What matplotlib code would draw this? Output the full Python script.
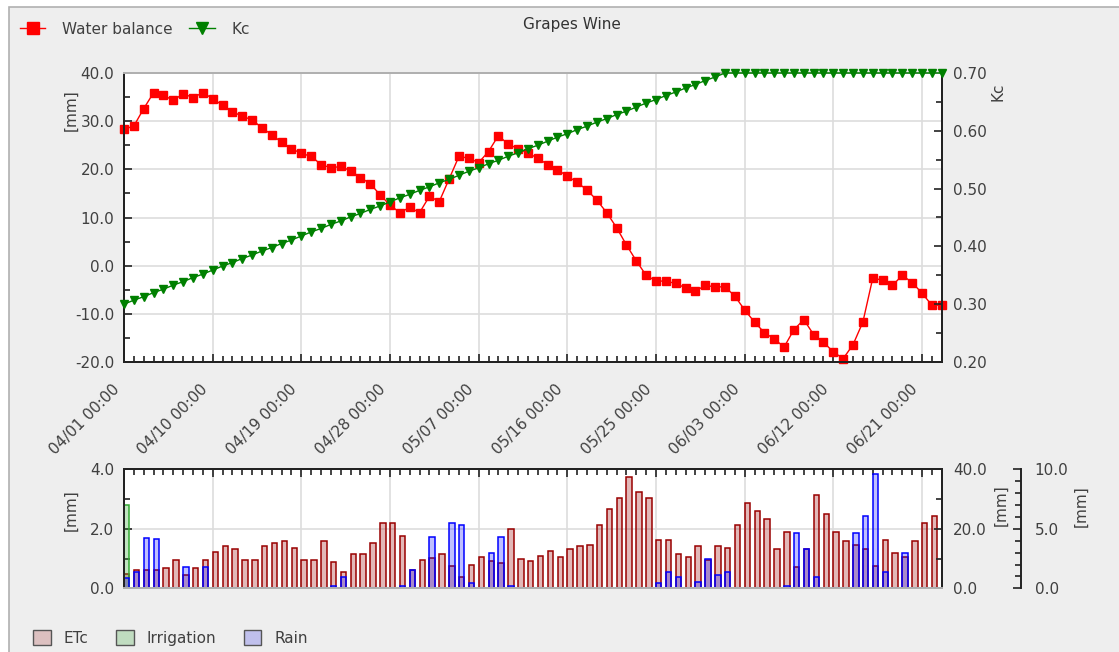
import matplotlib
matplotlib.use("Agg")
import matplotlib.pyplot as plt
from matplotlib.lines import Line2D
from matplotlib.patches import Patch, Rectangle
from matplotlib.ticker import MultipleLocator, FixedLocator, FormatStrFormatter
from matplotlib.transforms import ScaledTranslation

# daily values, 04/01 .. 06/23
days = list(range(84))
date_ticks = [0, 9, 18, 27, 36, 45, 54, 63, 72, 81]
date_labels = ['04/01 00:00', '04/10 00:00', '04/19 00:00', '04/28 00:00', '05/07 00:00',
               '05/16 00:00', '05/25 00:00', '06/03 00:00', '06/12 00:00', '06/21 00:00']

water_balance = [28.3, 29.0, 32.6, 35.9, 35.4, 34.3, 35.7, 34.9, 35.9, 34.7,
                 33.3, 32.0, 31.0, 30.3, 28.6, 27.2, 25.6, 24.3, 23.3, 22.7,
                 21.0, 20.3, 20.6, 19.7, 18.3, 17.0, 14.7, 12.6, 11.0, 12.1,
                 11.0, 14.4, 13.3, 18.0, 22.7, 22.3, 21.4, 23.7, 27.0, 25.2,
                 24.3, 23.4, 22.3, 21.0, 19.9, 18.6, 17.3, 15.7, 13.6, 11.0,
                 7.9, 4.3, 1.0, -2.0, -3.2, -3.2, -3.7, -4.6, -5.3, -4.1,
                 -4.4, -4.4, -6.3, -9.2, -11.7, -13.9, -15.2, -16.9, -13.3, -11.2,
                 -14.3, -15.9, -17.9, -19.3, -16.4, -11.7, -2.6, -3.0, -4.1, -2.0,
                 -3.5, -5.7, -8.2, -8.2]

kc = [0.300, 0.307, 0.313, 0.320, 0.326, 0.333, 0.339, 0.346, 0.352, 0.359,
      0.366, 0.372, 0.379, 0.385, 0.392, 0.398, 0.405, 0.411, 0.418, 0.425,
      0.431, 0.438, 0.444, 0.451, 0.457, 0.464, 0.470, 0.477, 0.484, 0.490,
      0.497, 0.503, 0.510, 0.516, 0.523, 0.530, 0.536, 0.543, 0.549, 0.556,
      0.562, 0.569, 0.575, 0.582, 0.589, 0.595, 0.602, 0.608, 0.615, 0.621,
      0.628, 0.634, 0.641, 0.648, 0.654, 0.661, 0.667, 0.674, 0.680, 0.687,
      0.693, 0.700, 0.700, 0.700, 0.700, 0.700, 0.700, 0.700, 0.700, 0.700,
      0.700, 0.700, 0.700, 0.700, 0.700, 0.700, 0.700, 0.700, 0.700, 0.700,
      0.700, 0.700, 0.700, 0.700]

etc = [0.48, 0.62, 0.62, 0.62, 0.67, 0.95, 0.45, 0.67, 0.95, 1.21,
       1.42, 1.31, 0.95, 0.95, 1.42, 1.53, 1.59, 1.37, 0.95, 0.95,
       1.59, 0.90, 0.56, 1.15, 1.15, 1.53, 2.18, 2.18, 1.75, 0.62,
       0.95, 1.03, 1.14, 0.76, 0.39, 0.77, 1.04, 0.93, 0.86, 2.00,
       0.99, 0.93, 1.09, 1.27, 1.04, 1.31, 1.42, 1.47, 2.12, 2.67,
       3.03, 3.73, 3.25, 3.03, 1.62, 1.62, 1.14, 1.04, 1.42, 0.95,
       1.42, 1.37, 2.12, 2.88, 2.61, 2.33, 1.31, 1.90, 0.71, 1.31,
       3.14, 2.50, 1.90, 1.59, 1.46, 1.31, 0.75, 1.62, 1.20, 1.06,
       1.59, 2.18, 2.44, 2.40]

rain = [3.6, 5.6, 16.8, 16.5, 0, 0, 7.3, 0, 7.3, 0,
        0, 0, 0, 0, 0, 0, 0, 0, 0, 0,
        0, 0.8, 3.9, 0, 0, 0, 0, 0, 0.8, 6.2,
        0, 17.4, 0, 21.8, 21.2, 1.7, 0, 12.0, 17.4, 0.8,
        0, 0, 0, 0, 0, 0, 0, 0, 0, 0,
        0, 0, 0, 0, 1.7, 5.5, 3.9, 0, 2.2, 9.9,
        4.5, 5.5, 0, 0, 0, 0, 0, 0.8, 18.5, 13.1,
        3.9, 0, 0, 0, 18.5, 24.3, 38.4, 5.5, 0, 12.0,
        0, 0, 0, 0]

irrigation = [7.0] + [0] * 83

W, H = 1119, 652


def fx(px):
    return px / W


def fy(py):
    return 1 - py / H


plt.rcParams['font.family'] = ['DejaVu Sans']
plt.rcParams['font.size'] = 11
txt = '#404040'

fig = plt.figure(figsize=(W / 100, H / 100), dpi=100, facecolor='white')
# panel background with border on top/left
fig.patches.append(Rectangle((fx(9), -0.05), 1.1, fy(7) + 0.05, transform=fig.transFigure,
                             facecolor='#eeeeee', edgecolor='#b0b0b0', lw=1.2, zorder=-10))

L, R = 124, 941.7
ax = fig.add_axes([fx(L), fy(362), (R - L) / W, (362 - 73) / H])
axb = fig.add_axes([fx(L), fy(588.3), (R - L) / W, (588.3 - 469.3) / H])


def style(a):
    a.tick_params(which='both', direction='in', colors='#222222', labelcolor=txt, labelsize=11)
    a.tick_params(which='major', length=6, width=1.2)
    a.tick_params(which='minor', length=4, width=1.2)
    for s in a.spines.values():
        s.set_linewidth(1.4)
        s.set_color('#222222')


# ---- top chart
ax.plot(days, water_balance, color='#ff0000', lw=1, marker='s', ms=5.5, clip_on=False, zorder=3)
ax.set_xlim(0, 83)
ax.set_ylim(-20, 40)
ax.yaxis.set_major_locator(MultipleLocator(10))
ax.yaxis.set_minor_locator(MultipleLocator(5))
ax.yaxis.set_major_formatter(FormatStrFormatter('%.1f'))
ax.xaxis.set_major_locator(FixedLocator(date_ticks))
ax.xaxis.set_minor_locator(MultipleLocator(1))
ax.set_xticklabels(date_labels, rotation=45, ha='right', va='center', rotation_mode='anchor')
ax.grid(which='major', color='#dddddd', lw=1.2)
style(ax)
ax.spines['top'].set_color('#b0b0b0')
ax.tick_params(axis='y', pad=7)
ax.tick_params(axis='x', pad=18)
shift = ScaledTranslation(-7 / 100, 0, fig.dpi_scale_trans)
for lab in ax.get_xticklabels():
    lab.set_transform(lab.get_transform() + shift)

ax2 = ax.twinx()
ax2.plot(days, kc, color='#008000', lw=1, marker='v', ms=6.3, clip_on=False, zorder=3)
ax2.set_ylim(0.2, 0.7)
ax2.yaxis.set_major_locator(MultipleLocator(0.1))
ax2.yaxis.set_minor_locator(MultipleLocator(0.05))
ax2.yaxis.set_major_formatter(FormatStrFormatter('%.2f'))
style(ax2)
ax2.spines['top'].set_color('#b0b0b0')
ax2.tick_params(axis='y', pad=8)

fig.text(fx(71), fy(110), '[mm]', rotation=90, ha='center', va='center', color=txt)
fig.text(fx(998), fy(92), 'Kc', rotation=90, ha='center', va='center', color=txt)
fig.text(fx(572), fy(25), 'Grapes Wine', ha='center', va='center', color='#333333')

fig.legend(handles=[Line2D([], [], color='#ff0000', marker='s', ms=8, lw=1),
                    Line2D([], [], color='#008000', marker='v', ms=9, lw=1)],
           labels=['Water balance', 'Kc'], loc='center left', bbox_to_anchor=(fx(20), fy(29)),
           ncol=2, frameon=False, borderpad=0, borderaxespad=0, handlelength=1.65,
           handletextpad=1.1, columnspacing=1.1, labelcolor=txt)

# ---- bottom chart
bx = [d + 0.28 for d in days]
bw = 0.55
axb.bar(bx, etc, width=bw, facecolor=(0.6, 0.0, 0.0, 0.28), edgecolor='#990000', lw=1.1, zorder=2)
axb.set_xlim(0, 83)
axb.set_ylim(0, 4)
axb.yaxis.set_major_locator(MultipleLocator(2))
axb.yaxis.set_minor_locator(MultipleLocator(1))
axb.yaxis.set_major_formatter(FormatStrFormatter('%.1f'))
axb.xaxis.tick_top()
axb.xaxis.set_major_locator(FixedLocator(date_ticks))
axb.xaxis.set_minor_locator(MultipleLocator(1))
axb.tick_params(axis='x', which='both', labeltop=False, labelbottom=False)
axb.grid(which='major', color='#dddddd', lw=1.2)
axb.set_axisbelow(True)
style(axb)
axb.spines['bottom'].set_color('#b0b0b0')
axb.tick_params(axis='y', pad=7)

ax_irr = axb.twinx()
ax_irr.bar(bx, irrigation, width=bw, facecolor=(0.2, 0.67, 0.2, 0.3), edgecolor='#33aa33', lw=1.1)
ax_irr.set_ylim(0, 10)
ax_irr.spines['right'].set_position(('axes', (1020.7 - L) / (R - L)))
ax_irr.yaxis.set_major_locator(MultipleLocator(5))
ax_irr.yaxis.set_minor_locator(MultipleLocator(1))
ax_irr.yaxis.set_major_formatter(FormatStrFormatter('%.1f'))
style(ax_irr)
ax_irr.tick_params(axis='y', pad=10)
for s in ['top', 'left', 'bottom']:
    ax_irr.spines[s].set_visible(False)

ax_rain = axb.twinx()
ax_rain.bar(bx, rain, width=bw, facecolor=(0.0, 0.0, 1.0, 0.25), edgecolor='#0000ff', lw=1.1)
ax_rain.set_ylim(0, 40)
ax_rain.yaxis.set_major_locator(MultipleLocator(20))
ax_rain.yaxis.set_minor_locator(MultipleLocator(10))
ax_rain.yaxis.set_major_formatter(FormatStrFormatter('%.1f'))
style(ax_rain)
ax_rain.tick_params(axis='y', pad=8)
ax_rain.spines['bottom'].set_color('#b0b0b0')

fig.text(fx(71), fy(510), '[mm]', rotation=90, ha='center', va='center', color=txt)
fig.text(fx(1001), fy(505), '[mm]', rotation=90, ha='center', va='center', color=txt)
fig.text(fx(1081), fy(506), '[mm]', rotation=90, ha='center', va='center', color=txt)

fig.legend(handles=[Patch(facecolor='#dcc0c0', edgecolor='#555555'),
                    Patch(facecolor='#c0dcc0', edgecolor='#555555'),
                    Patch(facecolor='#c0c0ec', edgecolor='#555555')],
           labels=['ETc', 'Irrigation', 'Rain'], loc='center left', bbox_to_anchor=(fx(33), fy(638)),
           ncol=3, frameon=False, borderpad=0, borderaxespad=0, handlelength=1.15,
           handleheight=1.15, handletextpad=0.85, columnspacing=1.8, labelcolor=txt)

fig.savefig('out.png', dpi=100, facecolor=fig.get_facecolor())
